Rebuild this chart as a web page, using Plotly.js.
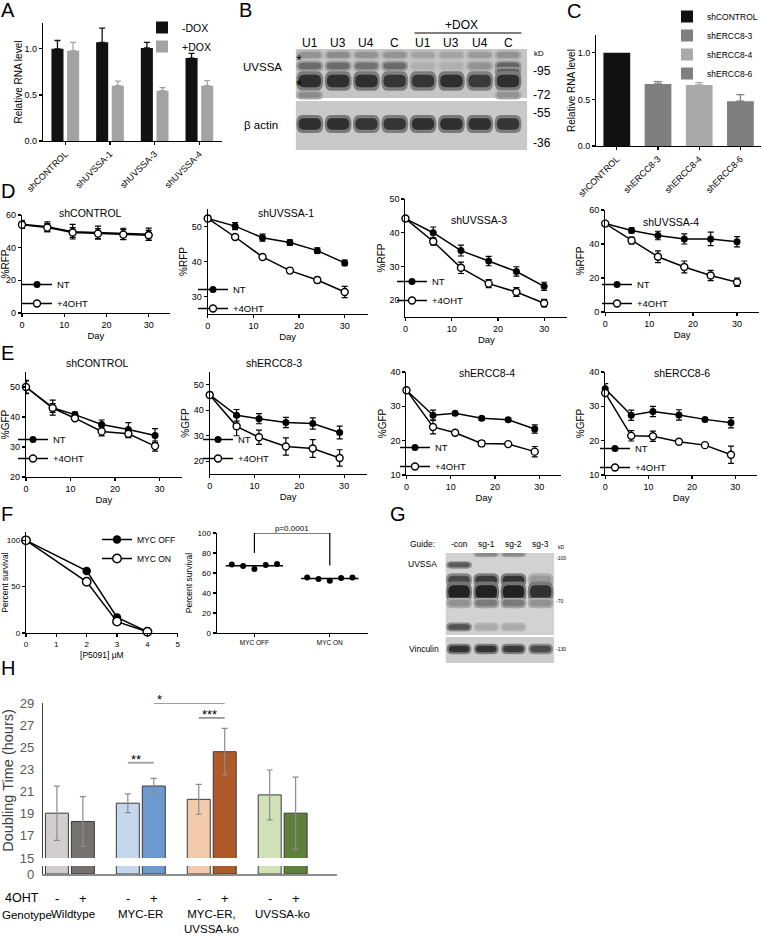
<!DOCTYPE html>
<html><head><meta charset="utf-8">
<script src="https://cdn.plot.ly/plotly-3.0.1.min.js"></script>
<style>html,body{margin:0;padding:0;background:#fff;}#chart{width:763px;height:939px;}</style>
</head><body><div id="chart"></div>
<script>
const W = 763, H = 939;
const FONT = '"Liberation Sans", Arial, Helvetica, sans-serif';
const NARROW = '"Liberation Sans Narrow", "Liberation Sans", Arial, sans-serif';

// ---------------- DATA ----------------
// Panel A
const A_categories = ['shCONTROL', 'shUVSSA-1', 'shUVSSA-3', 'shUVSSA-4'];
const A_minusDox = [1.00, 1.07, 1.01, 0.90];
const A_minusDoxErr = [0.09, 0.155, 0.06, 0.05];
const A_plusDox = [0.98, 0.60, 0.545, 0.60];
const A_plusDoxErr = [0.09, 0.05, 0.035, 0.055];

// Panel B (western blot: band position, per-lane intensity 0..1)
const B_lanes = ['U1', 'U3', 'U4', 'C', 'U1', 'U3', 'U4', 'C'];
const B_uvssaBandPos = [6, 17, 23, 32, 46];
const B_uvssaBandInt = [
  [0.30, 0.35, 0.30, 0.30, 0.20, 0.20, 0.25, 0.30],
  [0.55, 0.55, 0.50, 0.55, 0.12, 0.12, 0.30, 0.60],
  [0.00, 0.00, 0.00, 0.00, 0.00, 0.00, 0.00, 0.60],
  [0.92, 0.92, 0.92, 0.88, 0.88, 0.92, 0.85, 0.92],
  [0.35, 0.00, 0.00, 0.00, 0.00, 0.00, 0.00, 0.30]
];
const B_uvssaBandHalfH = [3, 3.5, 3.5, 6.5, 3];
const B_actinBandPos = [75];
const B_actinBandInt = [[0.92, 0.92, 0.88, 0.88, 0.92, 0.92, 0.92, 0.88]];
const B_actinBandHalfH = [6];
const B_kD = ['-95', '-72', '-55', '-36'];
const B_kDPos = [22, 46, 64, 94];

// Panel C
const C_categories = ['shCONTROL', 'shERCC8-3', 'shERCC8-4', 'shERCC8-6'];
const C_values = [1.00, 0.665, 0.655, 0.48];
const C_err = [0, 0.025, 0.025, 0.07];
const C_colors = ['#111111', '#7f7f7f', '#a9a9a9', '#7f7f7f'];

// Panel D (%RFP)
const D_days = [0, 6, 12, 18, 24, 30];
const D_titles = ['shCONTROL', 'shUVSSA-1', 'shUVSSA-3', 'shUVSSA-4'];
const D_NT = [
  [54.3, 52.8, 49.8, 49.2, 48.4, 48.2],
  [52.3, 50.1, 46.8, 45.4, 43.1, 39.6],
  [44.2, 40.0, 34.7, 31.6, 28.5, 24.1],
  [52.0, 48.0, 45.0, 43.0, 43.0, 41.3]
];
const D_NTerr = [
  [2.5, 3.0, 4.5, 4.0, 3.5, 3.8],
  [0.8, 1.0, 1.0, 0.8, 0.8, 0.8],
  [0.5, 1.7, 1.6, 1.4, 1.4, 1.2],
  [1.0, 1.5, 2.5, 3.0, 4.0, 3.0]
];
const D_OHT = [
  [54.0, 52.3, 49.3, 48.6, 48.0, 47.6],
  [52.3, 47.0, 41.3, 37.4, 34.7, 31.3],
  [44.2, 37.4, 29.6, 24.9, 22.4, 19.1],
  [52.0, 42.0, 32.5, 26.5, 21.5, 17.5]
];
const D_OHTerr = [
  [2.0, 2.5, 3.0, 3.0, 3.0, 3.0],
  [0.5, 0.6, 0.5, 0.8, 0.8, 1.6],
  [0.5, 1.1, 1.7, 1.2, 1.3, 1.1],
  [1.0, 2.0, 3.5, 3.5, 3.0, 2.5]
];

// Panel E (%GFP)
const E_days = [0, 6, 11, 17, 23, 29];
const E_titles = ['shCONTROL', 'shERCC8-3', 'shERCC8-4', 'shERCC8-6'];
const E_NT = [
  [50.0, 43.1, 40.8, 37.5, 35.8, 33.8],
  [46.0, 38.0, 36.7, 35.2, 34.8, 31.3],
  [34.7, 27.4, 28.0, 26.5, 26.1, 23.4],
  [35.1, 27.4, 28.5, 27.5, 26.2, 25.2]
];
const E_NTerr = [
  [2.2, 2.5, 0.8, 1.5, 2.3, 2.3],
  [1.0, 2.3, 2.0, 2.0, 2.2, 2.5],
  [0.5, 1.5, 0.5, 0.5, 0.5, 1.2],
  [1.5, 1.5, 1.5, 1.5, 0.5, 1.5]
];
const E_OHT = [
  [50.0, 43.0, 39.6, 35.2, 34.4, 30.3],
  [46.0, 33.7, 29.4, 25.8, 25.0, 21.3],
  [34.7, 24.0, 22.3, 19.2, 19.0, 16.8],
  [33.9, 21.4, 21.3, 19.7, 18.7, 15.9]
];
const E_OHTerr = [
  [2.0, 1.5, 0.8, 1.5, 1.3, 1.7],
  [1.0, 3.7, 2.8, 3.4, 3.5, 3.2],
  [0.5, 2.0, 0.5, 0.8, 0.5, 1.5],
  [0.8, 1.5, 1.5, 0.5, 0.5, 2.5]
];

// Panel F
const F_conc = [0, 2, 3, 4];
const F_mycOff = [100, 67, 16.8, 1.5];
const F_mycOn = [100, 55.3, 12.3, 1.4];
const F_groups = ['MYC OFF', 'MYC ON'];
const F_offPoints = [68.5, 67.0, 64.0, 68.0, 69.0];
const F_onPoints = [55.5, 54.0, 52.2, 55.0, 55.6];
const F_pvalue = 'p=0.0001';

// Panel G (western blot)
const G_lanes = ['-con', 'sg-1', 'sg-2', 'sg-3'];
const G_bandPos = [1.5, 12, 27, 39, 50, 74];
const G_bandInt = [
  [0.00, 0.35, 0.35, 0.00],
  [0.65, 0.00, 0.00, 0.00],
  [0.75, 0.85, 0.90, 0.25],
  [1.00, 1.00, 1.00, 0.90],
  [0.30, 0.45, 0.45, 0.30],
  [0.70, 0.15, 0.15, 0.00]
];
const G_bandHalfH = [1.8, 2.5, 4.5, 7, 3.5, 3];
const G_vincPos = [96];
const G_vincInt = [[0.90, 0.90, 0.85, 0.75]];
const G_vincHalfH = [3.5];

// Panel H
const H_genotypes = ['Wildtype', 'MYC-ER', 'MYC-ER,<br>UVSSA-ko', 'UVSSA-ko'];
const H_minus = [19.05, 19.95, 20.3, 20.7];
const H_minusErr = [2.45, 0.85, 1.35, 2.25];
const H_plus = [18.3, 21.5, 24.6, 19.05];
const H_plusErr = [2.25, 0.7, 2.1, 3.25];
const H_minusColors = ['#d0cece', '#c5d7ed', '#f1cbab', '#d1e2b9'];
const H_plusColors = ['#767171', '#6d99d1', '#b05a2c', '#5f7f3d'];
const H_yTicks = [15, 17, 19, 21, 23, 25, 27, 29];
const H_sig = [
  {from: [1, 0], to: [1, 1], label: '**', level: 23.6, color: '#a6a6a6', width: 2},
  {from: [2, 0], to: [2, 1], label: '***', level: 27.65, color: '#404040', width: 1},
  {from: [1, 1], to: [2, 1], label: '*', level: 29.0, color: '#404040', width: 1}
];

// ---------------- HELPERS ----------------
const dx = (a, b) => [a / W, b / W];
const dy = (top, bottom) => [1 - bottom / H, 1 - top / H];
const px = (x, y) => ({x: x / W, y: 1 - y / H, xref: 'paper', yref: 'paper'});

function gpAxis(extra) {
  return Object.assign({
    showline: true, linecolor: '#000', linewidth: 1.2, ticks: 'outside', ticklen: 3,
    tickwidth: 1.2, tickcolor: '#000', showgrid: false, zeroline: false,
    tickfont: {family: FONT, size: 9, color: '#000'}, fixedrange: true
  }, extra);
}
function hiddenAxis(extra) {
  return Object.assign({showline: false, showgrid: false, zeroline: false, ticks: '',
    showticklabels: false, fixedrange: true}, extra);
}
function legendAt(textX, top, size) {
  return {x: (textX - 40) / W, y: 1 - top / H, xanchor: 'left', yanchor: 'top',
    bgcolor: 'rgba(0,0,0,0)', font: {family: FONT, size: size, color: '#000'},
    itemwidth: 30, tracegroupgap: 0};
}
function bandPath(cx, cy, a, b) {
  return `M${cx - a},${cy} Q${cx - a},${cy - b} ${cx - a * 0.55},${cy - b} L${cx + a * 0.55},${cy - b} ` +
         `Q${cx + a},${cy - b} ${cx + a},${cy} Q${cx + a},${cy + b} ${cx + a * 0.55},${cy + b} ` +
         `L${cx - a * 0.55},${cy + b} Q${cx - a},${cy + b} ${cx - a},${cy} Z`;
}
function bandShapes(xa, ya, positions, intens, halfH, halfW) {
  const out = [];
  positions.forEach((p, r) => {
    intens[r].forEach((v, i) => {
      if (v <= 0) return;
      const lane = i + 1;
      const o = Math.round(196 - 80 * v), c = Math.round(194 - 160 * v);
      out.push({type: 'path', xref: xa, yref: ya, path: bandPath(lane, p, halfW * 1.08, halfH[r] * 1.5),
        fillcolor: `rgb(${o},${o},${o})`, line: {width: 0}});
      out.push({type: 'path', xref: xa, yref: ya, path: bandPath(lane, p, halfW * 0.9, halfH[r] * 0.95),
        fillcolor: `rgb(${c},${c},${c})`, line: {width: 0}});
    });
  });
  return out;
}

const traces = [];
const annotations = [];
const shapes = [];

// ---------------- LAYOUT ----------------
const layout = {
  width: W, height: H, margin: {l: 0, r: 0, t: 0, b: 0},
  paper_bgcolor: '#fff', plot_bgcolor: 'rgba(0,0,0,0)',
  barmode: 'overlay', showlegend: true, hovermode: false,
  font: {family: FONT, size: 9, color: '#000'}
};

// ---- Panel A ----
layout.xaxis = gpAxis({domain: dx(43, 222), anchor: 'y', type: 'category', range: [-0.5, 3.5],
  tickangle: -45, categoryorder: 'array', categoryarray: A_categories});
layout.yaxis = gpAxis({domain: dy(23, 141), anchor: 'x', range: [0, 1.28], tickvals: [0, 0.5, 1],
  ticktext: ['0.0', '0.5', '1.0'], title: {text: 'Relative RNA level', font: {family: FONT, size: 10}, standoff: 0}});
traces.push({type: 'bar', name: '-DOX', x: A_categories, y: A_minusDox, width: 0.27, offset: -0.31,
  marker: {color: '#111111'}, xaxis: 'x', yaxis: 'y', legend: 'legend',
  error_y: {type: 'data', symmetric: false, array: A_minusDoxErr, arrayminus: A_minusDoxErr.map(() => 0), color: '#111', thickness: 1.3, width: 3}});
traces.push({type: 'bar', name: '+DOX', x: A_categories, y: A_plusDox, width: 0.27, offset: 0.04,
  marker: {color: '#a3a3a3'}, xaxis: 'x', yaxis: 'y', legend: 'legend',
  error_y: {type: 'data', symmetric: false, array: A_plusDoxErr, arrayminus: A_plusDoxErr.map(() => 0), color: '#a3a3a3', thickness: 1.3, width: 3}});
layout.legend = legendAt(182, 13, 10.5);

// ---- Panel B (blot) ----
layout.xaxis2 = hiddenAxis({domain: dx(296, 528), anchor: 'y2', range: [0.5, 8.68]});
layout.yaxis2 = hiddenAxis({domain: dy(49, 150), anchor: 'x2', range: [101, 0]});
traces.push({type: 'scatter', x: [], y: [], xaxis: 'x2', yaxis: 'y2', showlegend: false});
shapes.push({type: 'rect', xref: 'x2', yref: 'y2', x0: 0.5, x1: 8.68, y0: 0, y1: 49, fillcolor: '#c5c5c5', line: {width: 0}});
shapes.push({type: 'rect', xref: 'x2', yref: 'y2', x0: 0.5, x1: 8.68, y0: 52, y1: 101, fillcolor: '#c9c9c9', line: {width: 0}});
shapes.push(...bandShapes('x2', 'y2', B_uvssaBandPos, B_uvssaBandInt, B_uvssaBandHalfH, 0.44));
shapes.push(...bandShapes('x2', 'y2', B_actinBandPos, B_actinBandInt, B_actinBandHalfH, 0.44));
B_lanes.forEach((l, i) => annotations.push({x: i + 1, xref: 'x2', y: 1 - 43 / H, yref: 'paper', text: l,
  showarrow: false, font: {family: FONT, size: 12}}));
annotations.push(Object.assign(px(462, 25), {text: '+DOX', showarrow: false, font: {family: FONT, size: 12}}));
shapes.push({type: 'line', xref: 'paper', yref: 'paper', x0: 415 / W, x1: 522 / W, y0: 1 - 33 / H, y1: 1 - 33 / H, line: {color: '#000', width: 1}});
annotations.push(Object.assign(px(284, 67), {text: 'UVSSA', xanchor: 'right', showarrow: false, font: {family: FONT, size: 11.5}}));
annotations.push(Object.assign(px(280, 125), {text: 'β actin', xanchor: 'right', showarrow: false, font: {family: FONT, size: 11.5}}));
annotations.push(Object.assign(px(299, 60), {text: '*', showarrow: false, font: {family: FONT, size: 15}}));
annotations.push(Object.assign(px(299, 84), {text: '*', showarrow: false, font: {family: FONT, size: 15}}));
annotations.push(Object.assign(px(533, 53), {text: 'kD', xanchor: 'left', showarrow: false, font: {family: FONT, size: 8}}));
B_kD.forEach((k, i) => annotations.push({x: 532 / W, xref: 'paper', y: B_kDPos[i], yref: 'y2', text: k,
  xanchor: 'left', showarrow: false, font: {family: FONT, size: 12}}));

// ---- Panel C ----
layout.xaxis3 = gpAxis({domain: dx(597, 762), anchor: 'y3', type: 'category', range: [-0.5, 3.5],
  tickangle: -45, categoryorder: 'array', categoryarray: C_categories});
layout.yaxis3 = gpAxis({domain: dy(35, 146), anchor: 'x3', range: [0, 1.19], tickvals: [0, 0.5, 1],
  ticktext: ['0.0', '0.5', '1.0'], title: {text: 'Relative RNA level', font: {family: FONT, size: 10}, standoff: 0}});
C_categories.forEach((c, i) => traces.push({type: 'bar', name: c, x: [c], y: [C_values[i]], width: 0.65, offset: -0.325,
  marker: {color: C_colors[i]}, xaxis: 'x3', yaxis: 'y3', legend: 'legend2',
  error_y: {type: 'data', symmetric: false, array: [C_err[i]], arrayminus: [0], color: C_colors[i], thickness: 1.3, width: 4, visible: C_err[i] > 0}}));
layout.legend2 = legendAt(708, 2, 8.5);

// ---- growth curve panels (D, E) ----
function growth(n, days, nt, ntErr, oht, ohtErr, legendId) {
  const common = {type: 'scatter', mode: 'lines+markers', x: days, xaxis: 'x' + n, yaxis: 'y' + n,
    legend: legendId, cliponaxis: false, line: {color: '#000', width: 1.5}};
  traces.push(Object.assign({}, common, {name: 'NT', y: nt,
    marker: {symbol: 'circle', size: 7, color: '#000'},
    error_y: {type: 'data', array: ntErr, color: '#000', thickness: 1.2, width: 3}}));
  traces.push(Object.assign({}, common, {name: '+4OHT', y: oht,
    marker: {symbol: 'circle', size: 7, color: '#fff', line: {color: '#000', width: 1.4}},
    error_y: {type: 'data', array: ohtErr, color: '#000', thickness: 1.2, width: 3}}));
}
function growthAxes(n, xd, yd, yr, yt, ytitle) {
  layout['xaxis' + n] = gpAxis({domain: dx(xd[0], xd[1]), anchor: 'y' + n, range: [0, 35], tickvals: [0, 10, 20, 30],
    title: {text: 'Day', font: {family: FONT, size: 9.5}, standoff: 3}});
  layout['yaxis' + n] = gpAxis({domain: dy(yd[0], yd[1]), anchor: 'x' + n, range: yr, tickvals: yt,
    title: {text: ytitle, font: {family: FONT, size: 10}, standoff: 2}});
}
const D_geom = [
  {x: [22, 170], y: [215, 313], r: [0, 60], t: [0, 20, 40, 60], title: [91, 213], leg: [57, 270]},
  {x: [208, 368], y: [209, 314], r: [25, 55], t: [30, 40, 50], title: [286, 213], leg: [233, 275]},
  {x: [406, 568], y: [199, 317], r: [15, 50], t: [20, 30, 40, 50], title: [480, 220], leg: [432, 267]},
  {x: [606, 760], y: [210, 312], r: [0, 60], t: [0, 20, 40, 60], title: [672, 222], leg: [637, 270]}
];
D_geom.forEach((g, i) => {
  const n = 4 + i, lid = 'legend' + (3 + i);
  growthAxes(n, g.x, g.y, g.r, g.t, '%RFP');
  growth(n, D_days, D_NT[i], D_NTerr[i], D_OHT[i], D_OHTerr[i], lid);
  layout[lid] = legendAt(g.leg[0], g.leg[1], 9.5);
  annotations.push(Object.assign(px(g.title[0], g.title[1]), {text: D_titles[i], showarrow: false, font: {family: FONT, size: 10.5}}));
});
const E_geom = [
  {x: [26, 182], y: [372, 477], r: [20, 55], t: [20, 30, 40, 50], title: [98, 363], leg: [53, 425]},
  {x: [210, 367], y: [372, 474], r: [15, 55], t: [20, 30, 40, 50], title: [274, 363], leg: [238, 425]},
  {x: [407, 562], y: [372, 475], r: [10, 40], t: [10, 20, 30, 40], title: [488, 373], leg: [435, 433]},
  {x: [606, 758], y: [372, 475], r: [10, 40], t: [10, 20, 30, 40], title: [683, 373], leg: [635, 434]}
];
E_geom.forEach((g, i) => {
  const n = 8 + i, lid = 'legend' + (7 + i);
  growthAxes(n, g.x, g.y, g.r, g.t, '%GFP');
  growth(n, E_days, E_NT[i], E_NTerr[i], E_OHT[i], E_OHTerr[i], lid);
  layout[lid] = legendAt(g.leg[0], g.leg[1], 9.5);
  annotations.push(Object.assign(px(g.title[0], g.title[1]), {text: E_titles[i], showarrow: false, font: {family: FONT, size: 10.5}}));
});

// ---- Panel F left ----
layout.xaxis12 = gpAxis({domain: dx(26, 178), anchor: 'y12', range: [0, 5], tickvals: [0, 1, 2, 3, 4, 5],
  tickfont: {family: FONT, size: 8}, title: {text: '[P5091] μM', font: {family: FONT, size: 8.5}, standoff: 4}});
layout.yaxis12 = gpAxis({domain: dy(532, 633), anchor: 'x12', range: [0, 109], tickvals: [0, 50, 100],
  tickfont: {family: FONT, size: 8}, title: {text: 'Percent survival', font: {family: FONT, size: 8.5}, standoff: 3}});
traces.push({type: 'scatter', mode: 'lines+markers', name: 'MYC OFF', x: F_conc, y: F_mycOff, xaxis: 'x12', yaxis: 'y12',
  legend: 'legend11', cliponaxis: false, line: {color: '#000', width: 1.5}, marker: {size: 8.5, color: '#000'}});
traces.push({type: 'scatter', mode: 'lines+markers', name: 'MYC ON', x: F_conc, y: F_mycOn, xaxis: 'x12', yaxis: 'y12',
  legend: 'legend11', cliponaxis: false, line: {color: '#000', width: 1.5}, marker: {size: 8.5, color: '#fff', line: {color: '#000', width: 1.4}}});
layout.legend11 = legendAt(137, 525, 8.5);

// ---- Panel F right ----
layout.xaxis13 = gpAxis({domain: dx(217, 368), anchor: 'y13', range: [-0.5, 1.5], tickvals: [0, 1], ticktext: F_groups,
  tickfont: {family: FONT, size: 6.5}});
layout.yaxis13 = gpAxis({domain: dy(533, 633), anchor: 'x13', range: [0, 100], tickvals: [0, 20, 40, 60, 80, 100],
  tickfont: {family: FONT, size: 8}, title: {text: 'Percent survival', font: {family: FONT, size: 8.5}, standoff: 3}});
[F_offPoints, F_onPoints].forEach((pts, g) => {
  const xs = pts.map((_, i) => g + (i - (pts.length - 1) / 2) * 0.15);
  traces.push({type: 'scatter', mode: 'markers', x: xs, y: pts, xaxis: 'x13', yaxis: 'y13', showlegend: false,
    name: F_groups[g], cliponaxis: false, marker: {size: 6, color: '#000'}});
  const mean = pts.reduce((a, b) => a + b, 0) / pts.length;
  traces.push({type: 'scatter', mode: 'lines', x: [g - 0.38, g + 0.38], y: [mean, mean], xaxis: 'x13', yaxis: 'y13',
    showlegend: false, line: {color: '#000', width: 1.5}});
});
traces.push({type: 'scatter', mode: 'lines', x: [0, 0, 1, 1],
  y: [Math.max(...F_offPoints) + 11, 100, 100, Math.max(...F_onPoints) + 12], xaxis: 'x13', yaxis: 'y13',
  showlegend: false, cliponaxis: false, line: {color: '#000', width: 1.2}});
annotations.push({x: 0.5, xref: 'x13', y: 100, yref: 'y13', yanchor: 'bottom', text: F_pvalue, showarrow: false,
  font: {family: FONT, size: 8}, yshift: -2});

// ---- Panel G (blot) ----
layout.xaxis14 = hiddenAxis({domain: dx(446, 555), anchor: 'y14', range: [0.5, 4.5]});
layout.yaxis14 = hiddenAxis({domain: dy(553, 663), anchor: 'x14', range: [110, 0]});
traces.push({type: 'scatter', x: [], y: [], xaxis: 'x14', yaxis: 'y14', showlegend: false});
shapes.push({type: 'rect', xref: 'x14', yref: 'y14', x0: 0.5, x1: 4.5, y0: 0, y1: 82, fillcolor: '#d2d2d2', line: {width: 0}});
shapes.push({type: 'rect', xref: 'x14', yref: 'y14', x0: 0.5, x1: 4.5, y0: 84, y1: 110, fillcolor: '#cdcdcd', line: {width: 0}});
shapes.push(...bandShapes('x14', 'y14', G_bandPos, G_bandInt, G_bandHalfH, 0.44));
shapes.push(...bandShapes('x14', 'y14', G_vincPos, G_vincInt, G_vincHalfH, 0.42));
G_lanes.forEach((l, i) => annotations.push({x: i + 1, xref: 'x14', y: 1 - 544 / H, yref: 'paper', text: l,
  showarrow: false, font: {family: FONT, size: 8.5}}));
annotations.push(Object.assign(px(438, 544), {text: 'Guide:', xanchor: 'right', showarrow: false, font: {family: FONT, size: 8.5}}));
annotations.push(Object.assign(px(407, 564), {text: 'UVSSA', xanchor: 'left', showarrow: false, font: {family: FONT, size: 8.5}}));
annotations.push(Object.assign(px(442, 649), {text: 'Vinculin', xanchor: 'right', showarrow: false, font: {family: FONT, size: 8.5}}));
annotations.push(Object.assign(px(557, 547), {text: 'kD', xanchor: 'left', showarrow: false, font: {family: FONT, size: 5}}));
annotations.push(Object.assign(px(555, 558), {text: '-100', xanchor: 'left', showarrow: false, font: {family: FONT, size: 5}}));
annotations.push(Object.assign(px(555, 601), {text: '-70', xanchor: 'left', showarrow: false, font: {family: FONT, size: 5}}));
annotations.push(Object.assign(px(555, 649), {text: '-130', xanchor: 'left', showarrow: false, font: {family: FONT, size: 5}}));

// ---- Panel H (broken axis) ----
const hx = H_genotypes.map((_, i) => i);
const hHalf = 0.183, hBarW = 0.324;
const hRange = [-0.38, 3.76];
layout.xaxis15 = hiddenAxis({domain: dx(43, 337), anchor: 'y15', range: hRange});
layout.yaxis15 = {domain: dy(703, 858), anchor: 'x15', range: [15, 29], tickvals: H_yTicks, showline: true,
  linecolor: '#404040', linewidth: 1, ticks: '', showgrid: false, zeroline: false, fixedrange: true, ticklabelstandoff: 5,
  tickfont: {family: NARROW, size: 13, color: '#595959'},
  title: {text: 'Doubling Time (hours)', font: {family: FONT, size: 14.5, color: '#404040'}, standoff: 4}};
layout.xaxis16 = {domain: dx(43, 337), anchor: 'y16', range: hRange, showline: true, linecolor: '#8c8c8c', linewidth: 1.6,
  ticks: '', showticklabels: false, showgrid: false, zeroline: false, fixedrange: true};
layout.yaxis16 = {domain: dy(866, 874), anchor: 'x16', range: [0, 1], tickvals: [0], showline: true, linecolor: '#404040',
  linewidth: 1, ticks: '', showgrid: false, zeroline: false, fixedrange: true, ticklabelstandoff: 5,
  tickfont: {family: NARROW, size: 13, color: '#595959'}};
[['15', '15'], ['16', '16']].forEach(([xa, ya]) => {
  const withErr = xa === '15';
  traces.push({type: 'bar', name: '4OHT -', x: hx, y: H_minus, width: hBarW, offset: -hHalf - hBarW / 2,
    marker: {color: H_minusColors, line: {color: '#3a3a3a', width: 1}}, xaxis: 'x' + xa, yaxis: 'y' + ya, showlegend: false,
    error_y: {type: 'data', array: H_minusErr, color: '#8c8c8c', thickness: 1.2, width: 3, visible: withErr}});
  traces.push({type: 'bar', name: '4OHT +', x: hx, y: H_plus, width: hBarW, offset: hHalf - hBarW / 2,
    marker: {color: H_plusColors, line: {color: '#3a3a3a', width: 1}}, xaxis: 'x' + xa, yaxis: 'y' + ya, showlegend: false,
    error_y: {type: 'data', array: H_plusErr, color: '#8c8c8c', thickness: 1.2, width: 3, visible: withErr}});
});
const hBarX = (g, s) => g + (s === 0 ? -hHalf : hHalf);
H_sig.forEach(s => {
  const x0 = hBarX(s.from[0], s.from[1]), x1 = hBarX(s.to[0], s.to[1]);
  shapes.push({type: 'line', xref: 'x15', yref: 'y15', x0: x0, x1: x1, y0: s.level, y1: s.level,
    line: {color: s.color, width: s.width}});
  annotations.push({x: x0, xref: 'x15', y: s.level, yref: 'y15', xanchor: 'left', yanchor: 'bottom', yshift: -6, xshift: 1,
    text: s.label, showarrow: false, font: {family: FONT, size: 13, color: '#000'}});
});
hx.forEach(g => {
  ['-', '+'].forEach((sym, s) => annotations.push({x: hBarX(g, s), xref: 'x16', y: 1 - 898 / H, yref: 'paper', text: sym,
    showarrow: false, font: {family: FONT, size: 13}}));
  annotations.push({x: g, xref: 'x16', y: 1 - 906 / H, yref: 'paper', yanchor: 'top', text: H_genotypes[g],
    xshift: g === 0 ? 3 : 0, showarrow: false, font: {family: NARROW, size: 11.5}});
});
annotations.push(Object.assign(px(41, 898), {text: '4OHT', xanchor: 'right', showarrow: false, font: {family: NARROW, size: 12.5}}));
annotations.push(Object.assign(px(0, 914.5), {text: 'Genotype', xanchor: 'left', showarrow: false, font: {family: NARROW, size: 11.5}}));

// ---- Panel letters ----
[['A', 8, 10], ['B', 246, 10], ['C', 575, 11], ['D', 8, 191], ['E', 8, 353], ['F', 7, 514], ['G', 399, 514], ['H', 8, 668]]
  .forEach(([t, x, y]) => annotations.push(Object.assign(px(x, y), {text: t, showarrow: false, font: {family: FONT, size: 20}})));

annotations.forEach(a => { if (!a.xanchor) a.xanchor = 'center'; if (!a.yanchor) a.yanchor = 'middle'; });
layout.annotations = annotations;
layout.shapes = shapes;

Plotly.newPlot('chart', traces, layout, {staticPlot: true, displayModeBar: false});
</script></body></html>
